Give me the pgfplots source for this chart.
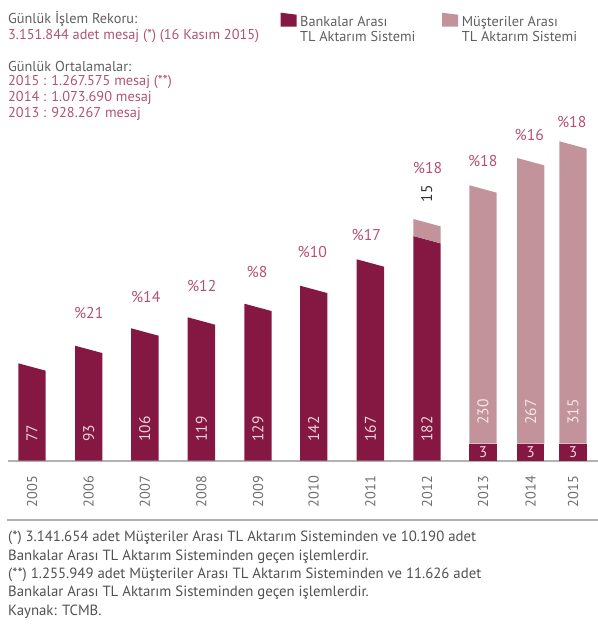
\documentclass[border=0pt]{standalone}
\usepackage{fontspec}
\setmainfont{PT Sans}
\usepackage{pgfplots}
\pgfplotsset{compat=1.18}
\definecolor{dark}{RGB}{133,24,66}
\definecolor{light}{RGB}{195,147,155}
\definecolor{pinktxt}{RGB}{178,82,114}
\definecolor{graytxt}{RGB}{95,95,95}
\definecolor{yeargray}{RGB}{110,110,110}
\definecolor{axisgray}{RGB}{178,178,178}
\definecolor{inlbl}{RGB}{236,210,218}
\definecolor{inlbltwo}{RGB}{244,230,233}
\newcommand{\fs}[1]{\fontsize{#1bp}{#1bp}\selectfont}
\tikzset{
  inv/.style={rotate=90, anchor=west, text=inlbl, font=\fs{15.5}, inner sep=0pt},
  invtwo/.style={rotate=90, anchor=west, text=inlbltwo, font=\fs{15.5}, inner sep=0pt},
  pct/.style={text=pinktxt, font=\fs{15.7}, inner sep=0pt},
  tl/.style={font=\fs{14.3}, inner sep=0pt, anchor=base west},
  fn/.style={font=\fs{14.8}, inner sep=0pt, anchor=base west, text=graytxt!85!black},
}
\begin{document}
\begin{tikzpicture}
\begin{axis}[
  x=1bp, y=1bp,
  xmin=8, xmax=598, ymin=0, ymax=460.7,
  axis x line*=bottom, axis y line=none,
  x axis line style={draw=axisgray, line width=1.6bp, -},
  xtick={32,88.7,144.8,201.4,258,313.7,370.4,427,483,530.7,573},
  xticklabels={2005,2006,2007,2008,2009,2010,2011,2012,2013,2014,2015},
  ytick=\empty,
  major tick length=0pt,
  xticklabel shift=15bp,
  xticklabel style={rotate=90, anchor=east, inner sep=0pt, font=\fs{14.3}, text=yeargray},
  clip=false,
]
% Bankalar Arasi (dark) bars, slanted tops
\addplot[fill=dark, draw=none] coordinates {(18.3,0) (18.3,97.4) (45.7,90.0) (45.7,0)} -- cycle;
\addplot[fill=dark, draw=none] coordinates {(75.0,0) (75.0,115.0) (102.4,107.6) (102.4,0)} -- cycle;
\addplot[fill=dark, draw=none] coordinates {(131.1,0) (131.1,132.4) (158.5,125.0) (158.5,0)} -- cycle;
\addplot[fill=dark, draw=none] coordinates {(187.7,0) (187.7,143.4) (215.1,136.0) (215.1,0)} -- cycle;
\addplot[fill=dark, draw=none] coordinates {(244.3,0) (244.3,157.0) (271.7,149.6) (271.7,0)} -- cycle;
\addplot[fill=dark, draw=none] coordinates {(300.0,0) (300.0,175.0) (327.4,167.6) (327.4,0)} -- cycle;
\addplot[fill=dark, draw=none] coordinates {(356.7,0) (356.7,201.4) (384.1,194.0) (384.1,0)} -- cycle;
\addplot[fill=dark, draw=none] coordinates {(413.3,0) (413.3,224.7) (440.7,217.3) (440.7,0)} -- cycle;
\addplot[fill=dark, draw=none] coordinates {(469.3,0) (469.3,17) (496.7,17) (496.7,0)} -- cycle;
\addplot[fill=dark, draw=none] coordinates {(517.0,0) (517.0,17) (544.4,17) (544.4,0)} -- cycle;
\addplot[fill=dark, draw=none] coordinates {(559.3,0) (559.3,17) (586.7,17) (586.7,0)} -- cycle;
% Musteriler Arasi (light) bars
\addplot[fill=light, draw=none] coordinates {(413.3,224.7) (413.3,241.7) (440.7,234.3) (440.7,217.3)} -- cycle;
\addplot[fill=light, draw=none] coordinates {(469.3,17) (469.3,275.4) (496.7,268.0) (496.7,17)} -- cycle;
\addplot[fill=light, draw=none] coordinates {(517.0,17) (517.0,302.7) (544.4,295.3) (544.4,17)} -- cycle;
\addplot[fill=light, draw=none] coordinates {(559.3,17) (559.3,319.4) (586.7,312.0) (586.7,17)} -- cycle;

% values inside bars
\node[inv] at (axis cs:32,19) {77};
\node[inv] at (axis cs:88.7,19) {93};
\node[inv] at (axis cs:144.8,19) {106};
\node[inv] at (axis cs:201.4,19) {119};
\node[inv] at (axis cs:258,19) {129};
\node[inv] at (axis cs:313.7,19) {142};
\node[inv] at (axis cs:370.4,19) {167};
\node[inv] at (axis cs:427,19) {182};
\node[invtwo] at (axis cs:483,35.7) {230};
\node[invtwo] at (axis cs:530.7,35.7) {267};
\node[invtwo] at (axis cs:573,35.7) {315};
\node[text=inlbl, font=\fs{15.5}, inner sep=0pt] at (axis cs:483,8.3) {3};
\node[text=inlbl, font=\fs{15.5}, inner sep=0pt] at (axis cs:530.7,8.3) {3};
\node[text=inlbl, font=\fs{15.5}, inner sep=0pt] at (axis cs:573,8.3) {3};
\node[rotate=90, text=black!80, font=\fs{15.5}, inner sep=0pt] at (axis cs:426.7,266.7) {15};
% growth percentages
\node[pct] at (axis cs:88.7,148.2) {\%21};
\node[pct] at (axis cs:145.7,163.7) {\%14};
\node[pct] at (axis cs:201.7,175.2) {\%12};
\node[pct] at (axis cs:257,188.7) {\%8};
\node[pct] at (axis cs:312.3,208.7) {\%10};
\node[pct] at (axis cs:366.3,225.4) {\%17};
\node[pct] at (axis cs:427.5,292.7) {\%18};
\node[pct] at (axis cs:482.7,299.7) {\%18};
\node[pct] at (axis cs:529.3,325.2) {\%16};
\node[pct] at (axis cs:571.7,339) {\%18};

% top-left notes
\node[tl, text=graytxt] at (axis cs:8,436.7) {Günlük İşlem Rekoru:};
\node[tl, text=pinktxt] at (axis cs:8,421.4) {3.151.844 adet mesaj (*) (16 Kasım 2015)};
\node[tl, text=graytxt] at (axis cs:8,389) {Günlük Ortalamalar:};
\node[tl, text=pinktxt] at (axis cs:8,374.7) {2015 : 1.267.575 mesaj (**)};
\node[tl, text=pinktxt] at (axis cs:8,359) {2014 : 1.073.690 mesaj};
\node[tl, text=pinktxt] at (axis cs:8,343.4) {2013 : 928.267 mesaj};
% legend
\fill[dark] (axis cs:280.7,434) -- (axis cs:280.7,448) -- (axis cs:296.7,446) -- (axis cs:296.7,434) -- cycle;
\node[tl, text=graytxt] at (axis cs:300,434) {Bankalar Arası};
\node[tl, text=graytxt] at (axis cs:300,419) {TL Aktarım Sistemi};
\fill[light] (axis cs:442,434) -- (axis cs:442,448) -- (axis cs:458,446) -- (axis cs:458,434) -- cycle;
\node[tl, text=graytxt] at (axis cs:461.7,434) {Müşteriler Arası};
\node[tl, text=graytxt] at (axis cs:461.7,419) {TL Aktarım Sistemi};

% footnotes
\draw[axisgray, line width=1.6bp] (axis cs:7,-59.3) -- (axis cs:598,-59.3);
\node[fn] at (axis cs:8,-81) {(*) 3.141.654 adet Müşteriler Arası TL Aktarım Sisteminden ve 10.190 adet};
\node[fn] at (axis cs:8,-99.3) {Bankalar Arası TL Aktarım Sisteminden geçen işlemlerdir.};
\node[fn] at (axis cs:8,-117.6) {(**) 1.255.949 adet Müşteriler Arası TL Aktarım Sisteminden ve 11.626 adet};
\node[fn] at (axis cs:8,-136) {Bankalar Arası TL Aktarım Sisteminden geçen işlemlerdir.};
\node[fn] at (axis cs:8,-154.3) {Kaynak: TCMB.};
\coordinate (TL) at (axis cs:0,460.7);
\coordinate (BR) at (axis cs:598,-169.3);
\end{axis}
\pgfresetboundingbox
\useasboundingbox (TL) rectangle (BR);
\end{tikzpicture}
\end{document}
